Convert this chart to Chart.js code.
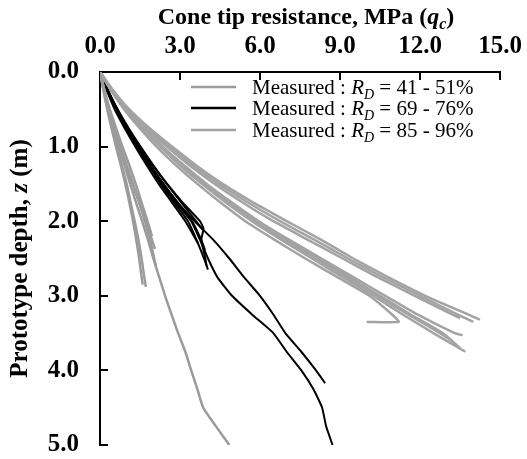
<!DOCTYPE html>
<html>
<head>
<meta charset="utf-8">
<script src="https://cdn.jsdelivr.net/npm/chart.js@4.4.0/dist/chart.umd.min.js"></script>
<style>
  body { margin: 0; background: #fff; }
  #wrap { width: 527px; height: 459px; }
</style>
</head>
<body>
<div id="wrap"><canvas id="cptChart"></canvas></div>
<script>
// tick labels
const qcTicks = [0, 3, 6, 9, 12, 15];
const depthTicks = [0, 1, 2, 3, 4, 5];

// R_D = 41 - 51% (loose)
const looseDepth1 = [0, 0.25, 0.5, 0.75, 1, 1.25, 1.5, 1.75, 2, 2.2];
const looseQc1 = [0, 0.17, 0.37, 0.6, 0.84, 1.1, 1.34, 1.56, 1.78, 1.95];
const looseDepth2 = [0, 0.25, 0.5, 0.75, 1, 1.25, 1.5, 1.75, 2, 2.25, 2.37];
const looseQc2 = [0, 0.16, 0.33, 0.53, 0.74, 0.98, 1.22, 1.47, 1.72, 1.95, 2.06];
const looseDepth3 = [0, 0.25, 0.5, 0.75, 1, 1.25, 1.5, 1.75, 2, 2.25, 2.5, 2.75, 2.88];
const looseQc3 = [0, 0.14, 0.29, 0.46, 0.64, 0.82, 1.0, 1.15, 1.3, 1.44, 1.56, 1.66, 1.72];
const looseDepth4 = [0, 0.25, 0.5, 0.75, 1, 1.25, 1.5, 1.75, 2, 2.25, 2.5, 2.75, 2.85];
const looseQc4 = [0, 0.13, 0.27, 0.43, 0.6, 0.78, 0.95, 1.1, 1.24, 1.36, 1.47, 1.56, 1.6];
const looseDepth5 = [0, 0.25, 0.5, 0.75, 1, 1.25, 1.5, 1.75, 2, 2.25, 2.5, 2.75, 3, 3.25, 3.5, 3.75, 4, 4.25, 4.5, 4.75, 5];
const looseQc5 = [0, 0.15, 0.31, 0.5, 0.7, 0.92, 1.13, 1.35, 1.58, 1.8, 2.0, 2.22, 2.44, 2.68, 2.93, 3.2, 3.42, 3.65, 3.87, 4.35, 4.85];
const looseDepth6 = [0, 0.25, 0.5, 0.75, 1, 1.25, 1.5, 1.75, 2, 2.25, 2.5, 2.6];
const looseQc6 = [0, 0.16, 0.34, 0.55, 0.76, 1.0, 1.24, 1.47, 1.68, 1.88, 2.03, 2.1];

// R_D = 69 - 76% (medium)
const medDepth1 = [0, 0.25, 0.5, 0.75, 1, 1.25, 1.5, 1.75, 2, 2.12];
const medQc1 = [0, 0.3, 0.65, 1.05, 1.5, 1.98, 2.5, 3.05, 3.6, 3.86];
const medDepth2 = [0, 0.25, 0.5, 0.75, 1, 1.25, 1.5, 1.75, 2, 2.25, 2.39];
const medQc2 = [0, 0.28, 0.6, 1.0, 1.42, 1.88, 2.38, 2.9, 3.45, 3.8, 3.94];
const medDepth3 = [0, 0.25, 0.5, 0.75, 1, 1.25, 1.5, 1.75, 2, 2.25, 2.5, 2.65];
const medQc3 = [0, 0.27, 0.58, 0.96, 1.38, 1.82, 2.28, 2.78, 3.3, 3.62, 3.9, 4.05];
const medDepth4 = [0, 0.25, 0.5, 0.75, 1, 1.25, 1.5, 1.75, 2, 2.1, 2.25, 2.5, 2.6];
const medQc4 = [0, 0.31, 0.66, 1.07, 1.52, 2.0, 2.52, 3.1, 3.75, 3.88, 3.8, 3.95, 4.0];
const medDepth5 = [0, 0.25, 0.5, 0.75, 1, 1.25, 1.5, 1.75, 2, 2.25, 2.3];
const medQc5 = [0, 0.26, 0.55, 0.92, 1.32, 1.75, 2.2, 2.7, 3.2, 3.6, 3.68];
const medDepth6 = [0, 0.25, 0.5, 0.75, 1, 1.25, 1.5, 1.75, 2, 2.25, 2.5, 2.75, 3, 3.25, 3.5, 3.75, 4, 4.17];
const medQc6 = [0, 0.3, 0.64, 1.03, 1.45, 1.9, 2.38, 2.92, 3.55, 4.25, 4.85, 5.4, 6.0, 6.5, 6.95, 7.55, 8.1, 8.44];
const medDepth7 = [0, 0.25, 0.5, 0.75, 1, 1.25, 1.5, 1.75, 2, 2.25, 2.5, 2.75, 3, 3.25, 3.5, 3.75, 4, 4.25, 4.5, 4.75, 5];
const medQc7 = [0, 0.28, 0.6, 0.98, 1.4, 1.85, 2.33, 2.85, 3.42, 3.75, 4.05, 4.4, 4.95, 5.7, 6.5, 7.0, 7.55, 8.0, 8.33, 8.48, 8.72];

// R_D = 85 - 96% (dense)
const denseDepth1 = [0, 0.25, 0.5, 0.75, 1, 1.25, 1.5, 1.75, 2, 2.25, 2.5, 2.75, 3, 3.25, 3.32];
const denseQc1 = [0, 0.5, 1.1, 1.85, 2.7, 3.6, 4.6, 5.75, 7.0, 8.3, 9.5, 10.8, 12.2, 13.8, 14.25];
const denseDepth2 = [0, 0.25, 0.5, 0.75, 1, 1.25, 1.5, 1.75, 2, 2.25, 2.5, 2.75, 3, 3.25, 3.35];
const denseQc2 = [0, 0.48, 1.05, 1.78, 2.6, 3.48, 4.45, 5.55, 6.75, 8.05, 9.3, 10.6, 12.0, 13.4, 14.0];
const denseDepth3 = [0, 0.25, 0.5, 0.75, 1, 1.25, 1.5, 1.75, 2, 2.25, 2.5, 2.75, 3, 3.25, 3.3];
const denseQc3 = [0, 0.46, 1.0, 1.7, 2.5, 3.35, 4.3, 5.35, 6.5, 7.8, 9.1, 10.4, 11.8, 13.2, 13.5];
const denseDepth4 = [0, 0.25, 0.5, 0.75, 1, 1.25, 1.5, 1.75, 2, 2.25, 2.5, 2.75, 3, 3.25, 3.5, 3.53];
const denseQc4 = [0, 0.45, 0.98, 1.62, 2.35, 3.15, 4.0, 4.95, 5.95, 7.1, 8.3, 9.5, 10.7, 11.9, 13.3, 13.6];
const denseDepth5 = [0, 0.25, 0.5, 0.75, 1, 1.25, 1.5, 1.75, 2, 2.25, 2.5, 2.75, 3, 3.25, 3.5, 3.75];
const denseQc5 = [0, 0.43, 0.93, 1.55, 2.25, 3.0, 3.82, 4.72, 5.7, 6.8, 7.95, 9.1, 10.25, 11.35, 12.5, 13.7];
const denseDepth6 = [0, 0.25, 0.5, 0.75, 1, 1.25, 1.5, 1.75, 2, 2.25, 2.5, 2.75, 3, 3.25, 3.5, 3.6];
const denseQc6 = [0, 0.44, 0.95, 1.58, 2.3, 3.08, 3.9, 4.82, 5.82, 6.92, 8.1, 9.25, 10.4, 11.55, 12.75, 13.2];
const denseDepth7 = [0, 0.25, 0.5, 0.75, 1, 1.25, 1.5, 1.75, 2, 2.25, 2.5, 2.75, 3, 3.25, 3.35, 3.35];
const denseQc7 = [0, 0.42, 0.9, 1.48, 2.12, 2.85, 3.65, 4.52, 5.45, 6.55, 7.7, 8.9, 10.1, 10.95, 11.2, 10.0];
const denseDepth8 = [0, 0.25, 0.5, 0.75, 1, 1.25, 1.5, 1.75, 2, 2.25, 2.5, 2.75, 3, 3.25, 3.5, 3.7];
const denseQc8 = [0, 0.44, 0.96, 1.6, 2.32, 3.1, 3.95, 4.88, 5.88, 7.0, 8.2, 9.35, 10.5, 11.65, 12.85, 13.5];

const LOOSE_COLOR = '#9b9b9b';
const MED_COLOR = '#000000';
const DENSE_COLOR = '#a3a3a3';
const SERIF = '"Liberation Serif", "Times New Roman", serif';

function makeLine(depths, qcs, color, width) {
    return {
        data: depths.map((z, i) => ({ x: qcs[i], y: z })),
        showLine: true,
        borderColor: color,
        borderWidth: width,
        pointRadius: 0,
        tension: 0.15,
        fill: false
    };
}

const datasets = [
    makeLine(denseDepth1, denseQc1, DENSE_COLOR, 2.5),
    makeLine(denseDepth2, denseQc2, DENSE_COLOR, 2.5),
    makeLine(denseDepth3, denseQc3, DENSE_COLOR, 2.5),
    makeLine(denseDepth4, denseQc4, DENSE_COLOR, 2.5),
    makeLine(denseDepth5, denseQc5, DENSE_COLOR, 2.5),
    makeLine(denseDepth6, denseQc6, DENSE_COLOR, 2.5),
    makeLine(denseDepth7, denseQc7, DENSE_COLOR, 2.5),
    makeLine(denseDepth8, denseQc8, DENSE_COLOR, 2.5),
    makeLine(looseDepth1, looseQc1, LOOSE_COLOR, 2.5),
    makeLine(looseDepth2, looseQc2, LOOSE_COLOR, 2.5),
    makeLine(looseDepth3, looseQc3, LOOSE_COLOR, 2.5),
    makeLine(looseDepth4, looseQc4, LOOSE_COLOR, 2.5),
    makeLine(looseDepth5, looseQc5, LOOSE_COLOR, 2.5),
    makeLine(looseDepth6, looseQc6, LOOSE_COLOR, 2.5),
    makeLine(medDepth1, medQc1, MED_COLOR, 2),
    makeLine(medDepth2, medQc2, MED_COLOR, 2),
    makeLine(medDepth3, medQc3, MED_COLOR, 2),
    makeLine(medDepth4, medQc4, MED_COLOR, 2),
    makeLine(medDepth5, medQc5, MED_COLOR, 2),
    makeLine(medDepth6, medQc6, MED_COLOR, 2),
    makeLine(medDepth7, medQc7, MED_COLOR, 2)
];

// draws text made of pieces (italic, subscript) one after the other
function drawPieces(ctx, x, y, pieces) {
    pieces.forEach(p => {
        ctx.font = p.font;
        ctx.fillText(p.t, x, y + (p.dy || 0));
        x += ctx.measureText(p.t).width;
    });
}
function piecesWidth(ctx, pieces) {
    let w = 0;
    pieces.forEach(p => { ctx.font = p.font; w += ctx.measureText(p.t).width; });
    return w;
}

const decorations = {
    id: 'decorations',
    afterDraw(chart) {
        const ctx = chart.ctx;
        const xs = chart.scales.x;
        const ys = chart.scales.y;
        const area = chart.chartArea;
        ctx.save();
        ctx.strokeStyle = '#000';
        ctx.fillStyle = '#000';
        ctx.lineWidth = 2;

        // inward tick marks
        qcTicks.slice(1).forEach(v => {
            const px = Math.round(xs.getPixelForValue(v));
            ctx.beginPath();
            ctx.moveTo(px, area.top);
            ctx.lineTo(px, area.top + 8);
            ctx.stroke();
        });
        depthTicks.slice(1).forEach(v => {
            const py = Math.round(ys.getPixelForValue(v));
            ctx.beginPath();
            ctx.moveTo(area.left, py);
            ctx.lineTo(area.left + 8, py);
            ctx.stroke();
        });

        // x title
        ctx.textBaseline = 'alphabetic';
        ctx.textAlign = 'left';
        const xTitle = [
            { t: 'Cone tip resistance, MPa (', font: 'bold 24px ' + SERIF },
            { t: 'q', font: 'italic bold 24px ' + SERIF },
            { t: 'c', font: 'italic bold 16px ' + SERIF, dy: 5 },
            { t: ')', font: 'bold 24px ' + SERIF }
        ];
        drawPieces(ctx, 306 - piecesWidth(ctx, xTitle) / 2, 24, xTitle);

        // y title
        const yTitle = [
            { t: 'Prototype depth, ', font: 'bold 25px ' + SERIF },
            { t: 'z', font: 'italic bold 25px ' + SERIF },
            { t: ' (m)', font: 'bold 25px ' + SERIF }
        ];
        ctx.save();
        ctx.translate(27, (area.top + area.bottom) / 2);
        ctx.rotate(-Math.PI / 2);
        drawPieces(ctx, -piecesWidth(ctx, yTitle) / 2, 0, yTitle);
        ctx.restore();

        // legend
        const rows = [
            { color: LOOSE_COLOR, text: ' = 41 - 51%', y: 87 },
            { color: MED_COLOR, text: ' = 69 - 76%', y: 108 },
            { color: DENSE_COLOR, text: ' = 85 - 96%', y: 130 }
        ];
        rows.forEach(r => {
            ctx.strokeStyle = r.color;
            ctx.lineWidth = 2.5;
            ctx.beginPath();
            ctx.moveTo(191, r.y);
            ctx.lineTo(236, r.y);
            ctx.stroke();
            drawPieces(ctx, 252, r.y + 7, [
                { t: 'Measured : ', font: '21px ' + SERIF },
                { t: 'R', font: 'italic 21px ' + SERIF },
                { t: 'D', font: 'italic 14px ' + SERIF, dy: 5 },
                { t: r.text, font: '21px ' + SERIF }
            ]);
        });
        ctx.restore();
    }
};

const tickFont = { family: SERIF, size: 25, weight: 'bold' };

new Chart(document.getElementById('cptChart'), {
    type: 'scatter',
    data: { datasets: datasets },
    options: {
        responsive: true,
        maintainAspectRatio: false,
        animation: false,
        layout: { padding: { left: 0, top: 0, right: 27, bottom: 14 } },
        plugins: {
            legend: { display: false },
            tooltip: { enabled: false }
        },
        scales: {
            x: {
                type: 'linear',
                position: 'top',
                min: 0,
                max: 15,
                afterFit: s => { s.height = 72; s.paddingLeft = 0; s.paddingRight = 0; },
                afterBuildTicks: s => { s.ticks = qcTicks.map(v => ({ value: v })); },
                ticks: {
                    callback: v => v.toFixed(1),
                    font: tickFont,
                    color: '#000',
                    padding: 10,
                    maxRotation: 0
                },
                grid: { display: true, drawOnChartArea: false, drawTicks: false },
                border: { display: true, color: '#000', width: 2 }
            },
            y: {
                type: 'linear',
                reverse: true,
                min: 0,
                max: 5,
                afterFit: s => { s.width = 100; s.paddingTop = 0; s.paddingBottom = 0; },
                afterBuildTicks: s => { s.ticks = depthTicks.map(v => ({ value: v })); },
                ticks: {
                    callback: v => v.toFixed(1),
                    font: tickFont,
                    color: '#000',
                    padding: 21
                },
                grid: { display: true, drawOnChartArea: false, drawTicks: false },
                border: { display: true, color: '#000', width: 2 }
            }
        }
    },
    plugins: [decorations]
});
</script>
</body>
</html>
